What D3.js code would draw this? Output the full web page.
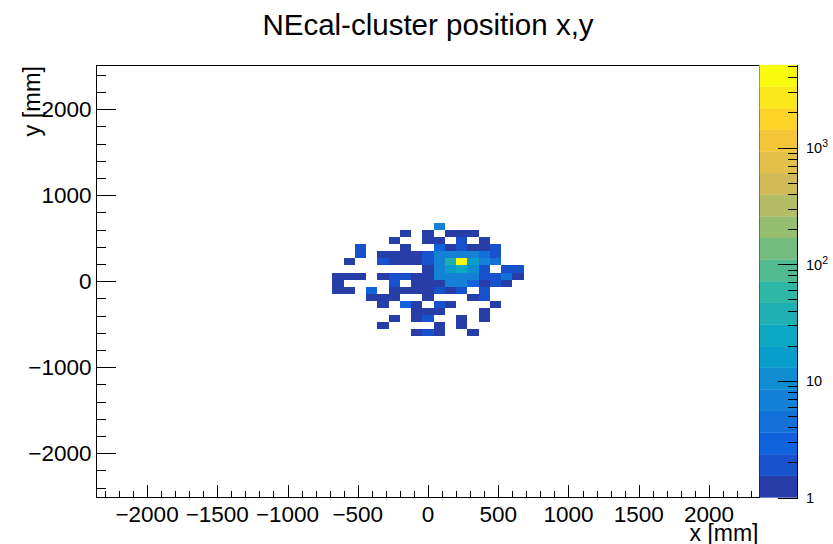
<!DOCTYPE html>
<html>
<head>
<meta charset="utf-8">
<script src="https://cdn.jsdelivr.net/npm/d3@7"></script>
<style>
  html, body { margin: 0; padding: 0; background: #fff; }
  svg { display: block; }
  text { font-family: "Liberation Sans", Arial, Helvetica, sans-serif; fill: #000; }
</style>
</head>
<body>
<svg id="chart" width="833" height="544"></svg>
<script>
// ---- histogram definition (mm) ----
const xRange = [-2360, 2360];
const yRange = [-2515, 2515];
const xBinWidth = 80;      // x bins are centred on multiples of 80 mm
const yBinWidth = 81.7;    // y bin edges at yBinOrigin + j * yBinWidth
const yBinOrigin = 20;

// ---- filled bins: x bin index, y bin index, entries ----
const binX = [
  1,
  -2, 0, 2, 3, 4,
  -3, 0, 1, 3, 5,
  -6, -2, 1, 2, 3, 4, 5, 6,
  -6, -4, -3, -2, -1, 0, 1, 2, 3, 4, 5, 6,
  -7, -4, -3, -2, -1, 0, 1, 2, 3, 4, 5, 6,
  0, 1, 2, 3, 4, 5, 7, 8,
  -8, -7, -6, -4, -3, -2, -1, 0, 1, 2, 3, 4, 5, 6, 7, 8,
  -8, -3, -1, 0, 1, 2, 3, 4, 5, 6, 7,
  -8, -7, -5, -3, -2, -1, 0, 1, 2, 3, 5,
  -5, -4, -3, 0, 4, 5,
  -4, -2, -1, 1, 2, 6,
  -1, 0, 1, 5,
  -3, -1, 0, 3, 5,
  -4, 1, 3,
  -1, 0, 1, 4
];
const binY = [
  7,
  6, 6, 6, 6, 6,
  5, 5, 5, 5, 5,
  4, 4, 4, 4, 4, 4, 4, 4,
  3, 3, 3, 3, 3, 3, 3, 3, 3, 3, 3, 3,
  2, 2, 2, 2, 2, 2, 2, 2, 2, 2, 2, 2,
  1, 1, 1, 1, 1, 1, 1, 1,
  0, 0, 0, 0, 0, 0, 0, 0, 0, 0, 0, 0, 0, 0, 0, 0,
  -1, -1, -1, -1, -1, -1, -1, -1, -1, -1, -1,
  -2, -2, -2, -2, -2, -2, -2, -2, -2, -2, -2,
  -3, -3, -3, -3, -3, -3,
  -4, -4, -4, -4, -4, -4,
  -5, -5, -5, -5,
  -6, -6, -6, -6, -6,
  -7, -7, -7,
  -8, -8, -8, -8
];
const binCount = [
  6,
  1, 1, 1, 1, 1,
  1, 1, 1, 2, 1,
  2, 1, 3, 1, 2, 1, 1, 2,
  2, 1, 1, 1, 1, 2, 7, 6, 7, 6, 4, 2,
  1, 2, 1, 1, 1, 2, 7, 35, 5100, 16, 6, 4,
  1, 7, 16, 20, 11, 2, 2, 2,
  1, 1, 1, 1, 2, 2, 1, 1, 7, 6, 6, 6, 2, 2, 4, 1,
  1, 2, 1, 1, 1, 6, 6, 3, 1, 2, 1,
  1, 1, 3, 1, 1, 1, 1, 2, 1, 2, 2,
  1, 1, 1, 1, 1, 2,
  1, 3, 1, 2, 1, 1,
  1, 1, 1, 1,
  1, 1, 2, 1, 1,
  1, 1, 1,
  1, 2, 1, 1
];

// ---- axis ticks and labels ----
const xMajorTicks = [-2000, -1500, -1000, -500, 0, 500, 1000, 1500, 2000];
const xMinorStep = 100;
const yMajorTicks = [-2000, -1000, 0, 1000, 2000];
const yMinorStep = 200;
const zDecades = [1, 10, 100, 1000];
const nContours = 20;

const title = "NEcal-cluster position x,y";
const xTitle = "x [mm]";
const yTitle = "y [mm]";

// ---- layout ----
const frame = { left: 96.5, right: 759.5, top: 65, bottom: 497.5 };
const bar = { left: 759.5, right: 797.5 };

const svg = d3.select("#chart");
const x = d3.scaleLinear().domain(xRange).range([frame.left, frame.right]);
const y = d3.scaleLinear().domain(yRange).range([frame.bottom, frame.top]);

const zMin = 1;
const zMax = d3.max(binCount);
const zLog = d3.scaleLinear().domain([0, Math.log10(zMax)]).range([0, nContours]);
const zBar = d3.scaleLog().domain([zMin, zMax]).range([frame.bottom, frame.top]);

// kBird palette, 255 interpolated colours
const birdStops = [0.0, 0.125, 0.25, 0.375, 0.5, 0.625, 0.75, 0.875, 1.0];
const birdR = [0.2082, 0.0592, 0.0780, 0.0232, 0.1802, 0.5301, 0.8186, 0.9956, 0.9764];
const birdG = [0.1664, 0.3599, 0.5041, 0.6419, 0.7178, 0.7492, 0.7328, 0.7862, 0.9832];
const birdB = [0.5293, 0.8684, 0.8385, 0.7914, 0.6425, 0.4662, 0.3499, 0.1968, 0.0539];
const nPal = 255;
const palR = d3.scaleLinear().domain(birdStops).range(birdR);
const palG = d3.scaleLinear().domain(birdStops).range(birdG);
const palB = d3.scaleLinear().domain(birdStops).range(birdB);
function paletteColor(idx) {
  const t = idx / (nPal - 1);
  return d3.rgb(Math.round(palR(t) * 255), Math.round(palG(t) * 255), Math.round(palB(t) * 255)).formatHex();
}
function levelColor(level) {
  let idx = Math.floor((level + 0.99) * nPal / nContours);
  if (idx > nPal - 1) idx = nPal - 1;
  return paletteColor(idx);
}
function countColor(c) {
  let level = Math.floor(0.01 + zLog(Math.log10(c)));
  level = Math.max(0, Math.min(nContours - 1, level));
  return levelColor(level);
}

// ---- bins ----
const bins = binCount.map((c, i) => ({ ix: binX[i], iy: binY[i], c }));
svg.append("g").selectAll("rect").data(bins).join("rect")
  .attr("x", d => x(d.ix * xBinWidth - xBinWidth / 2))
  .attr("width", d => x(d.ix * xBinWidth + xBinWidth / 2) - x(d.ix * xBinWidth - xBinWidth / 2))
  .attr("y", d => y(yBinOrigin + (d.iy + 1) * yBinWidth))
  .attr("height", d => y(yBinOrigin + d.iy * yBinWidth) - y(yBinOrigin + (d.iy + 1) * yBinWidth))
  .attr("fill", d => countColor(d.c))
  .attr("shape-rendering", "crispEdges");

// ---- frame ----
svg.append("rect")
  .attr("x", frame.left).attr("y", frame.top)
  .attr("width", frame.right - frame.left).attr("height", frame.bottom - frame.top)
  .attr("fill", "none").attr("stroke", "#000").attr("stroke-width", 1)
  .attr("shape-rendering", "crispEdges");

// ---- x axis (ticks point into the frame) ----
const xMajLen = 13, xMinLen = 6.5;
const xMinor = d3.range(-2300, 2301, xMinorStep).filter(v => !xMajorTicks.includes(v));
const gx = svg.append("g").attr("stroke", "#000").attr("shape-rendering", "crispEdges");
gx.selectAll("line.maj").data(xMajorTicks).join("line").attr("class", "maj")
  .attr("x1", d => Math.round(x(d)) + 0.5).attr("x2", d => Math.round(x(d)) + 0.5)
  .attr("y1", frame.bottom).attr("y2", frame.bottom - xMajLen);
gx.selectAll("line.min").data(xMinor).join("line").attr("class", "min")
  .attr("x1", d => Math.round(x(d)) + 0.5).attr("x2", d => Math.round(x(d)) + 0.5)
  .attr("y1", frame.bottom).attr("y2", frame.bottom - xMinLen);
const fmt = v => (v < 0 ? "\u2212" + Math.abs(v) : String(v));
svg.append("g").selectAll("text").data(xMajorTicks).join("text")
  .attr("x", d => x(d)).attr("y", 522)
  .attr("text-anchor", "middle").attr("font-size", 22.5)
  .text(fmt);

// ---- y axis ----
const yMajLen = 19.5, yMinLen = 9.75;
const yMinor = d3.range(-2400, 2401, yMinorStep).filter(v => !yMajorTicks.includes(v));
const gy = svg.append("g").attr("stroke", "#000").attr("shape-rendering", "crispEdges");
gy.selectAll("line.maj").data(yMajorTicks).join("line").attr("class", "maj")
  .attr("y1", d => Math.round(y(d)) + 0.5).attr("y2", d => Math.round(y(d)) + 0.5)
  .attr("x1", frame.left).attr("x2", frame.left + yMajLen);
gy.selectAll("line.min").data(yMinor).join("line").attr("class", "min")
  .attr("y1", d => Math.round(y(d)) + 0.5).attr("y2", d => Math.round(y(d)) + 0.5)
  .attr("x1", frame.left).attr("x2", frame.left + yMinLen);
svg.append("g").selectAll("text").data(yMajorTicks).join("text")
  .attr("x", 91.5).attr("y", d => y(d) + 8.2)
  .attr("text-anchor", "end").attr("font-size", 22.5)
  .text(fmt);

// ---- axis titles ----
svg.append("text").attr("x", frame.right - 1).attr("y", 541)
  .attr("text-anchor", "end").attr("font-size", 23).text(xTitle);
svg.append("text")
  .attr("transform", `translate(40,${frame.top + 1}) rotate(-90)`)
  .attr("text-anchor", "end").attr("font-size", 23.5).text(yTitle);

// ---- title ----
svg.append("text").attr("x", 428).attr("y", 35)
  .attr("text-anchor", "middle").attr("font-size", 29.5).text(title);

// ---- colour bar ----
const bandEdges = d3.range(nContours + 1).map(i => Math.pow(10, zLog.invert(i)));
const bands = d3.range(nContours).map(i => ({ lo: bandEdges[i], hi: bandEdges[i + 1], level: i }));
svg.append("g").selectAll("rect").data(bands).join("rect")
  .attr("x", bar.left).attr("width", bar.right - bar.left)
  .attr("y", d => zBar(d.hi)).attr("height", d => zBar(d.lo) - zBar(d.hi))
  .attr("fill", d => levelColor(d.level))
  .attr("stroke", d => levelColor(d.level)).attr("stroke-width", 0.3);

const zMinor = [];
zDecades.forEach(dec => {
  for (let m = 2; m <= 9; m++) { if (dec * m <= zMax) zMinor.push(dec * m); }
});
const gz = svg.append("g").attr("stroke", "#000").attr("shape-rendering", "crispEdges");
gz.append("line").attr("x1", bar.right).attr("x2", bar.right)
  .attr("y1", frame.top).attr("y2", frame.bottom);
gz.selectAll("line.maj").data(zDecades).join("line").attr("class", "maj")
  .attr("y1", d => Math.round(zBar(d)) + 0.5).attr("y2", d => Math.round(zBar(d)) + 0.5)
  .attr("x1", bar.right).attr("x2", bar.right - 20);
gz.selectAll("line.min").data(zMinor).join("line").attr("class", "min")
  .attr("y1", d => Math.round(zBar(d)) + 0.5).attr("y2", d => Math.round(zBar(d)) + 0.5)
  .attr("x1", bar.right).attr("x2", bar.right - 10);

const zl = svg.append("g").selectAll("text").data(zDecades).join("text")
  .attr("x", 806).attr("y", d => zBar(d) + 5.5)
  .attr("font-size", 14.5);
zl.each(function (d) {
  const t = d3.select(this);
  const e = Math.round(Math.log10(d));
  if (e === 0) t.text("1");
  else if (e === 1) t.text("10");
  else {
    t.append("tspan").text("10");
    t.append("tspan").attr("dy", -6).attr("font-size", 10.5).text(String(e));
  }
});
</script>
</body>
</html>
